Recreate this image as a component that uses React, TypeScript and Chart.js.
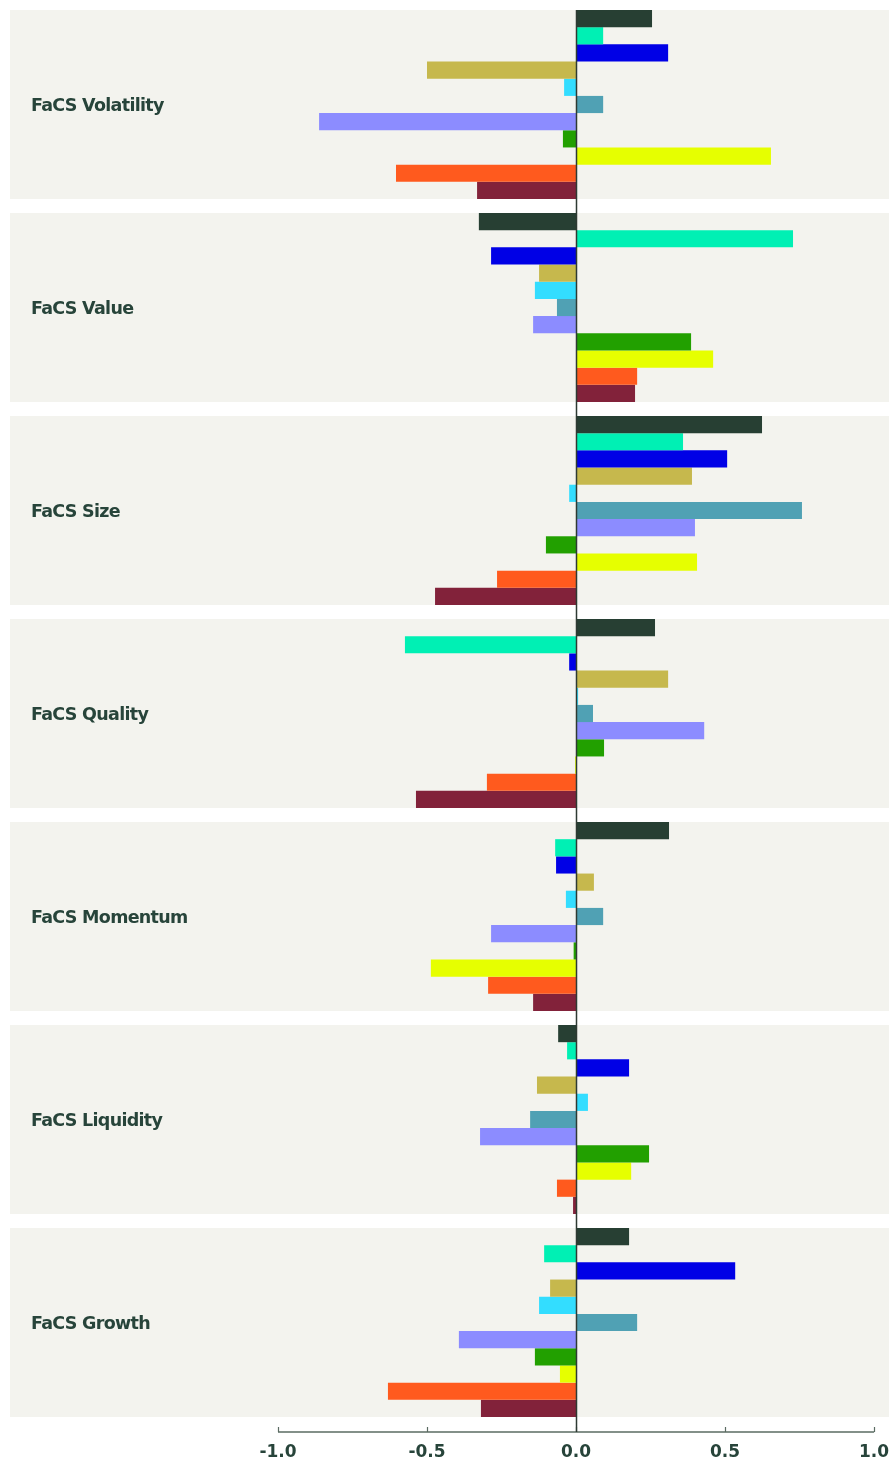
import React, { useEffect, useRef } from "react";
import { Chart, registerables } from "chart.js";

Chart.register(...registerables);

const categories = [
  "FaCS Volatility",
  "FaCS Value",
  "FaCS Size",
  "FaCS Quality",
  "FaCS Momentum",
  "FaCS Liquidity",
  "FaCS Growth",
];

// one array per series, values in category order
const series1 = [0.255, -0.326, 0.624, 0.265, 0.312, -0.06, 0.178];
const series2 = [0.091, 0.728, 0.359, -0.574, -0.07, -0.03, -0.107];
const series3 = [0.309, -0.285, 0.507, -0.023, -0.067, 0.178, 0.534];
const series4 = [-0.5, -0.124, 0.389, 0.309, 0.06, -0.131, -0.087];
const series5 = [-0.04, -0.138, -0.023, 0.007, -0.034, 0.04, -0.124];
const series6 = [0.091, -0.064, 0.758, 0.057, 0.091, -0.154, 0.205];
const series7 = [-0.862, -0.144, 0.399, 0.43, -0.285, -0.322, -0.393];
const series8 = [-0.044, 0.386, -0.101, 0.094, -0.008, 0.245, -0.138];
const series9 = [0.654, 0.46, 0.406, -0.003, -0.487, 0.185, -0.054];
const series10 = [-0.604, 0.205, -0.265, -0.299, -0.295, -0.064, -0.631];
const series11 = [-0.332, 0.198, -0.473, -0.537, -0.144, -0.01, -0.319];

const seriesValues = [
  series1, series2, series3, series4, series5, series6,
  series7, series8, series9, series10, series11,
];

const seriesColors = [
  "#273f33",
  "#00f0b4",
  "#0000e6",
  "#c6b84d",
  "#33ddff",
  "#50a1b4",
  "#8c8cff",
  "#22a000",
  "#e6ff00",
  "#ff5a1e",
  "#82223a",
];

const xTicks = [-1, -0.5, 0, 0.5, 1];
const xMin = -1.899;
const xMax = 1.05;

const CAT_PCT = 0.931;
const BAND_COLOR = "#f3f3ee";
const TEXT_COLOR = "#27443a";

const decorPlugin = {
  id: "decor",
  beforeDatasetsDraw(chart: any) {
    const { ctx, chartArea, scales } = chart;
    const y = scales.y;
    const n = chart.data.labels.length;
    const cat = (chartArea.bottom - chartArea.top) / n;
    const half = (cat * CAT_PCT) / 2;
    ctx.save();
    ctx.fillStyle = BAND_COLOR;
    for (let i = 0; i < n; i++) {
      const c = y.getPixelForValue(i);
      ctx.fillRect(chartArea.left, c - half, chart.width - chartArea.left, half * 2);
    }
    ctx.fillStyle = TEXT_COLOR;
    ctx.font = "bold 17.5px 'DejaVu Sans'";
    ctx.textAlign = "left";
    ctx.textBaseline = "middle";
    try {
      (ctx as any).letterSpacing = "-0.7px";
    } catch (e) {}
    for (let i = 0; i < n; i++) {
      const c = y.getPixelForValue(i);
      ctx.fillText(chart.data.labels[i], 31, c + 2);
    }
    ctx.restore();
  },
  afterDatasetsDraw(chart: any) {
    const { ctx, chartArea, scales } = chart;
    const x = scales.x;
    const y = scales.y;
    const n = chart.data.labels.length;
    const cat = (chartArea.bottom - chartArea.top) / n;
    const half = (cat * CAT_PCT) / 2;
    const axisY = chartArea.bottom + 8;
    ctx.save();
    // axis line + tick marks
    ctx.strokeStyle = "#5a6b62";
    ctx.lineWidth = 1.5;
    ctx.beginPath();
    ctx.moveTo(x.getPixelForValue(xTicks[0]), axisY);
    ctx.lineTo(x.getPixelForValue(xTicks[xTicks.length - 1]), axisY);
    ctx.stroke();
    ctx.lineWidth = 1.2;
    for (const t of xTicks) {
      const px = Math.round(x.getPixelForValue(t)) + 0.5;
      ctx.beginPath();
      ctx.moveTo(px, axisY - 5);
      ctx.lineTo(px, axisY);
      ctx.stroke();
    }
    // zero line
    const zx = Math.round(x.getPixelForValue(0)) + 0.5;
    ctx.strokeStyle = "#2e3a33";
    ctx.lineWidth = 1.5;
    ctx.beginPath();
    ctx.moveTo(zx, y.getPixelForValue(0) - half);
    ctx.lineTo(zx, axisY);
    ctx.stroke();
    ctx.restore();
  },
};

export default function App() {
  const canvasRef = useRef<HTMLCanvasElement | null>(null);

  useEffect(() => {
    if (!canvasRef.current) return;
    const chart = new Chart(canvasRef.current, {
      type: "bar",
      data: {
        labels: categories,
        datasets: seriesValues.map((vals, i) => ({
          label: `Series ${i + 1}`,
          data: vals,
          backgroundColor: seriesColors[i],
          borderWidth: 0,
          barPercentage: 1,
          categoryPercentage: CAT_PCT,
        })),
      },
      options: {
        indexAxis: "y",
        responsive: false,
        animation: false,
        devicePixelRatio: 1,
        layout: { padding: { left: 10, top: 3, right: 0, bottom: 0 } },
        plugins: {
          legend: { display: false },
          tooltip: { enabled: false },
          title: { display: false },
        },
        scales: {
          y: {
            type: "category",
            display: false,
            offset: true,
          },
          x: {
            type: "linear",
            min: xMin,
            max: xMax,
            grid: { display: false, drawTicks: false },
            border: { display: false },
            afterBuildTicks: (scale: any) => {
              scale.ticks = xTicks.map((v) => ({ value: v }));
            },
            afterFit: (scale: any) => {
              scale.height = 37;
              scale.paddingLeft = 0;
              scale.paddingRight = 0;
            },
            ticks: {
              autoSkip: false,
              maxRotation: 0,
              minRotation: 0,
              padding: 18,
              color: TEXT_COLOR,
              font: { family: "'DejaVu Sans'", weight: "bold", size: 17 },
              callback: (v: any) => Number(v).toFixed(1),
            },
          },
        },
      },
      plugins: [decorPlugin],
    } as any);
    return () => chart.destroy();
  }, []);

  return (
    <div style={{ position: "absolute", left: 0, top: 0, width: 889, height: 1461 }}>
      <canvas
        ref={canvasRef}
        width={889}
        height={1461}
        style={{ display: "block", width: 889, height: 1461 }}
      />
    </div>
  );
}
